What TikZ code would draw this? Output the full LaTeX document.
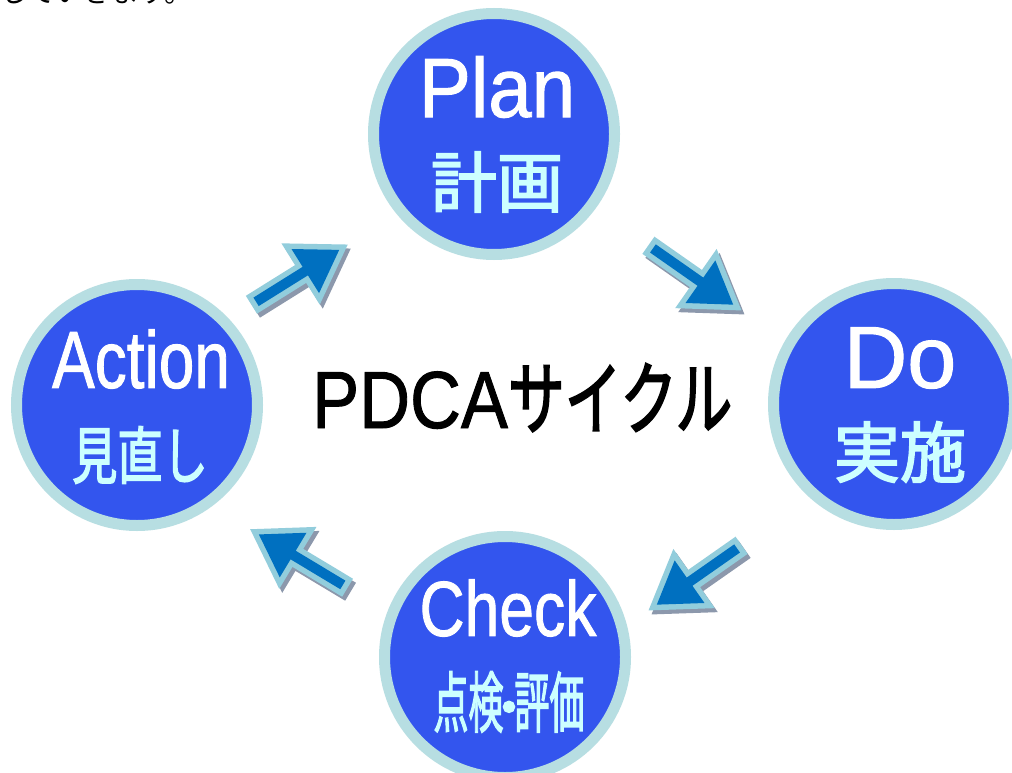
\documentclass[tikz,border=0pt]{standalone}
\usepackage{fontspec}
\setmainfont{Liberation Sans}
\newfontfamily\latb[FakeBold=1.2]{Liberation Sans}
\newfontfamily\cjk{Noto Sans CJK JP}
\newfontfamily\cjkb[FakeBold=2.6]{Noto Sans CJK JP}
\usetikzlibrary{calc}
\definecolor{ring}{RGB}{183,222,226}
\definecolor{inblue}{RGB}{51,85,238}
\definecolor{pale}{RGB}{204,255,255}
\definecolor{arlight}{RGB}{146,205,220}
\definecolor{ardark}{RGB}{0,112,192}
\definecolor{arshadow}{RGB}{140,152,172}
\tikzset{
  phase/.style={circle, draw=ring, line width=11pt, fill=inblue, minimum size=241pt, inner sep=0pt},
  latin/.style={text=white, inner sep=0pt},
  kanji/.style={text=pale, inner sep=0pt, font=\cjkb\fontsize{66}{66}\selectfont},
}
\newcommand\pdcaarrow[2]{%
  \begin{scope}[shift={($(#1)+(3,4)$)}, rotate=#2]
    \draw[arshadow, fill=arshadow, line width=11pt, line join=miter]
      (6,-5) -- (64,-5) -- (64,-26) -- (104,0) -- (64,26) -- (64,5) -- (6,5) -- cycle;
  \end{scope}
  \begin{scope}[shift={(#1)}, rotate=#2]
    \draw[arlight, line width=11pt, line join=miter]
      (6,-5) -- (64,-5) -- (64,-26) -- (104,0) -- (64,26) -- (64,5) -- (6,5) -- cycle;
    \fill[ardark]
      (6,-5) -- (64,-5) -- (64,-26) -- (104,0) -- (64,26) -- (64,5) -- (6,5) -- cycle;
  \end{scope}}
\begin{document}
\begin{tikzpicture}[x=1pt, y=-1pt]
\useasboundingbox (0,0) rectangle (1012,773);
\clip (0,0) rectangle (1012,773);
\fill[white] (0,0) rectangle (1012,773);

% clipped line of text at the top
\node[anchor=base west, inner sep=0pt, font=\cjk\fontsize{28}{28}\selectfont] (topline) at (0,3) {していきます。};

% phases
\node[phase] (plan) at (494,134) {};
\node[phase] (do) at (894,404) {};
\node[phase] (check) at (505,657) {};
\node[phase] (action) at (137,405) {};

% labels
\node[latin, font=\latb\fontsize{84}{84}\selectfont] (planlbl) at (497,87) {\scalebox{0.93}[1]{Plan}};
\node[kanji] (plankj) at (497,182) {計画};

\node[latin, font=\latb\fontsize{88}{88}\selectfont] (dolbl) at (900,358) {Do};
\node[kanji] (dokj) at (900,452) {実施};

\node[latin, font=\latb\fontsize{78}{78}\selectfont] (checklbl) at (508,608) {\scalebox{0.8}[1]{Check}};
\node[kanji] (checkkj) at (509,702) {\scalebox{0.53}[1]{点検}\makebox[11pt][c]{\scalebox{0.8}{・}}\scalebox{0.53}[1]{評価}};

\node[latin, font=\latb\fontsize{81}{81}\selectfont] (actionlbl) at (141,359) {\scalebox{0.79}[1]{Action}};
\node[kanji, font=\cjkb\fontsize{62}{62}\selectfont] (actionkj) at (140,455) {\scalebox{0.73}[1]{見直し}};

% centre title
\node[anchor=base west, inner sep=0pt] (title) at (312,428)
  {{\latb\fontsize{81}{81}\selectfont\scalebox{0.87}[1]{PDCA}}{\cjkb\fontsize{80}{80}\selectfont\scalebox{0.71}[1]{サイクル}}};

% arrows
\coordinate (a1) at (251,305);
\coordinate (a2) at (648,245);
\coordinate (a3) at (742,545);
\coordinate (a4) at (348,588);
\pdcaarrow{a1}{32}
\pdcaarrow{a2}{-35}
\pdcaarrow{a3}{-145}
\pdcaarrow{a4}{149}
\end{tikzpicture}
\end{document}
